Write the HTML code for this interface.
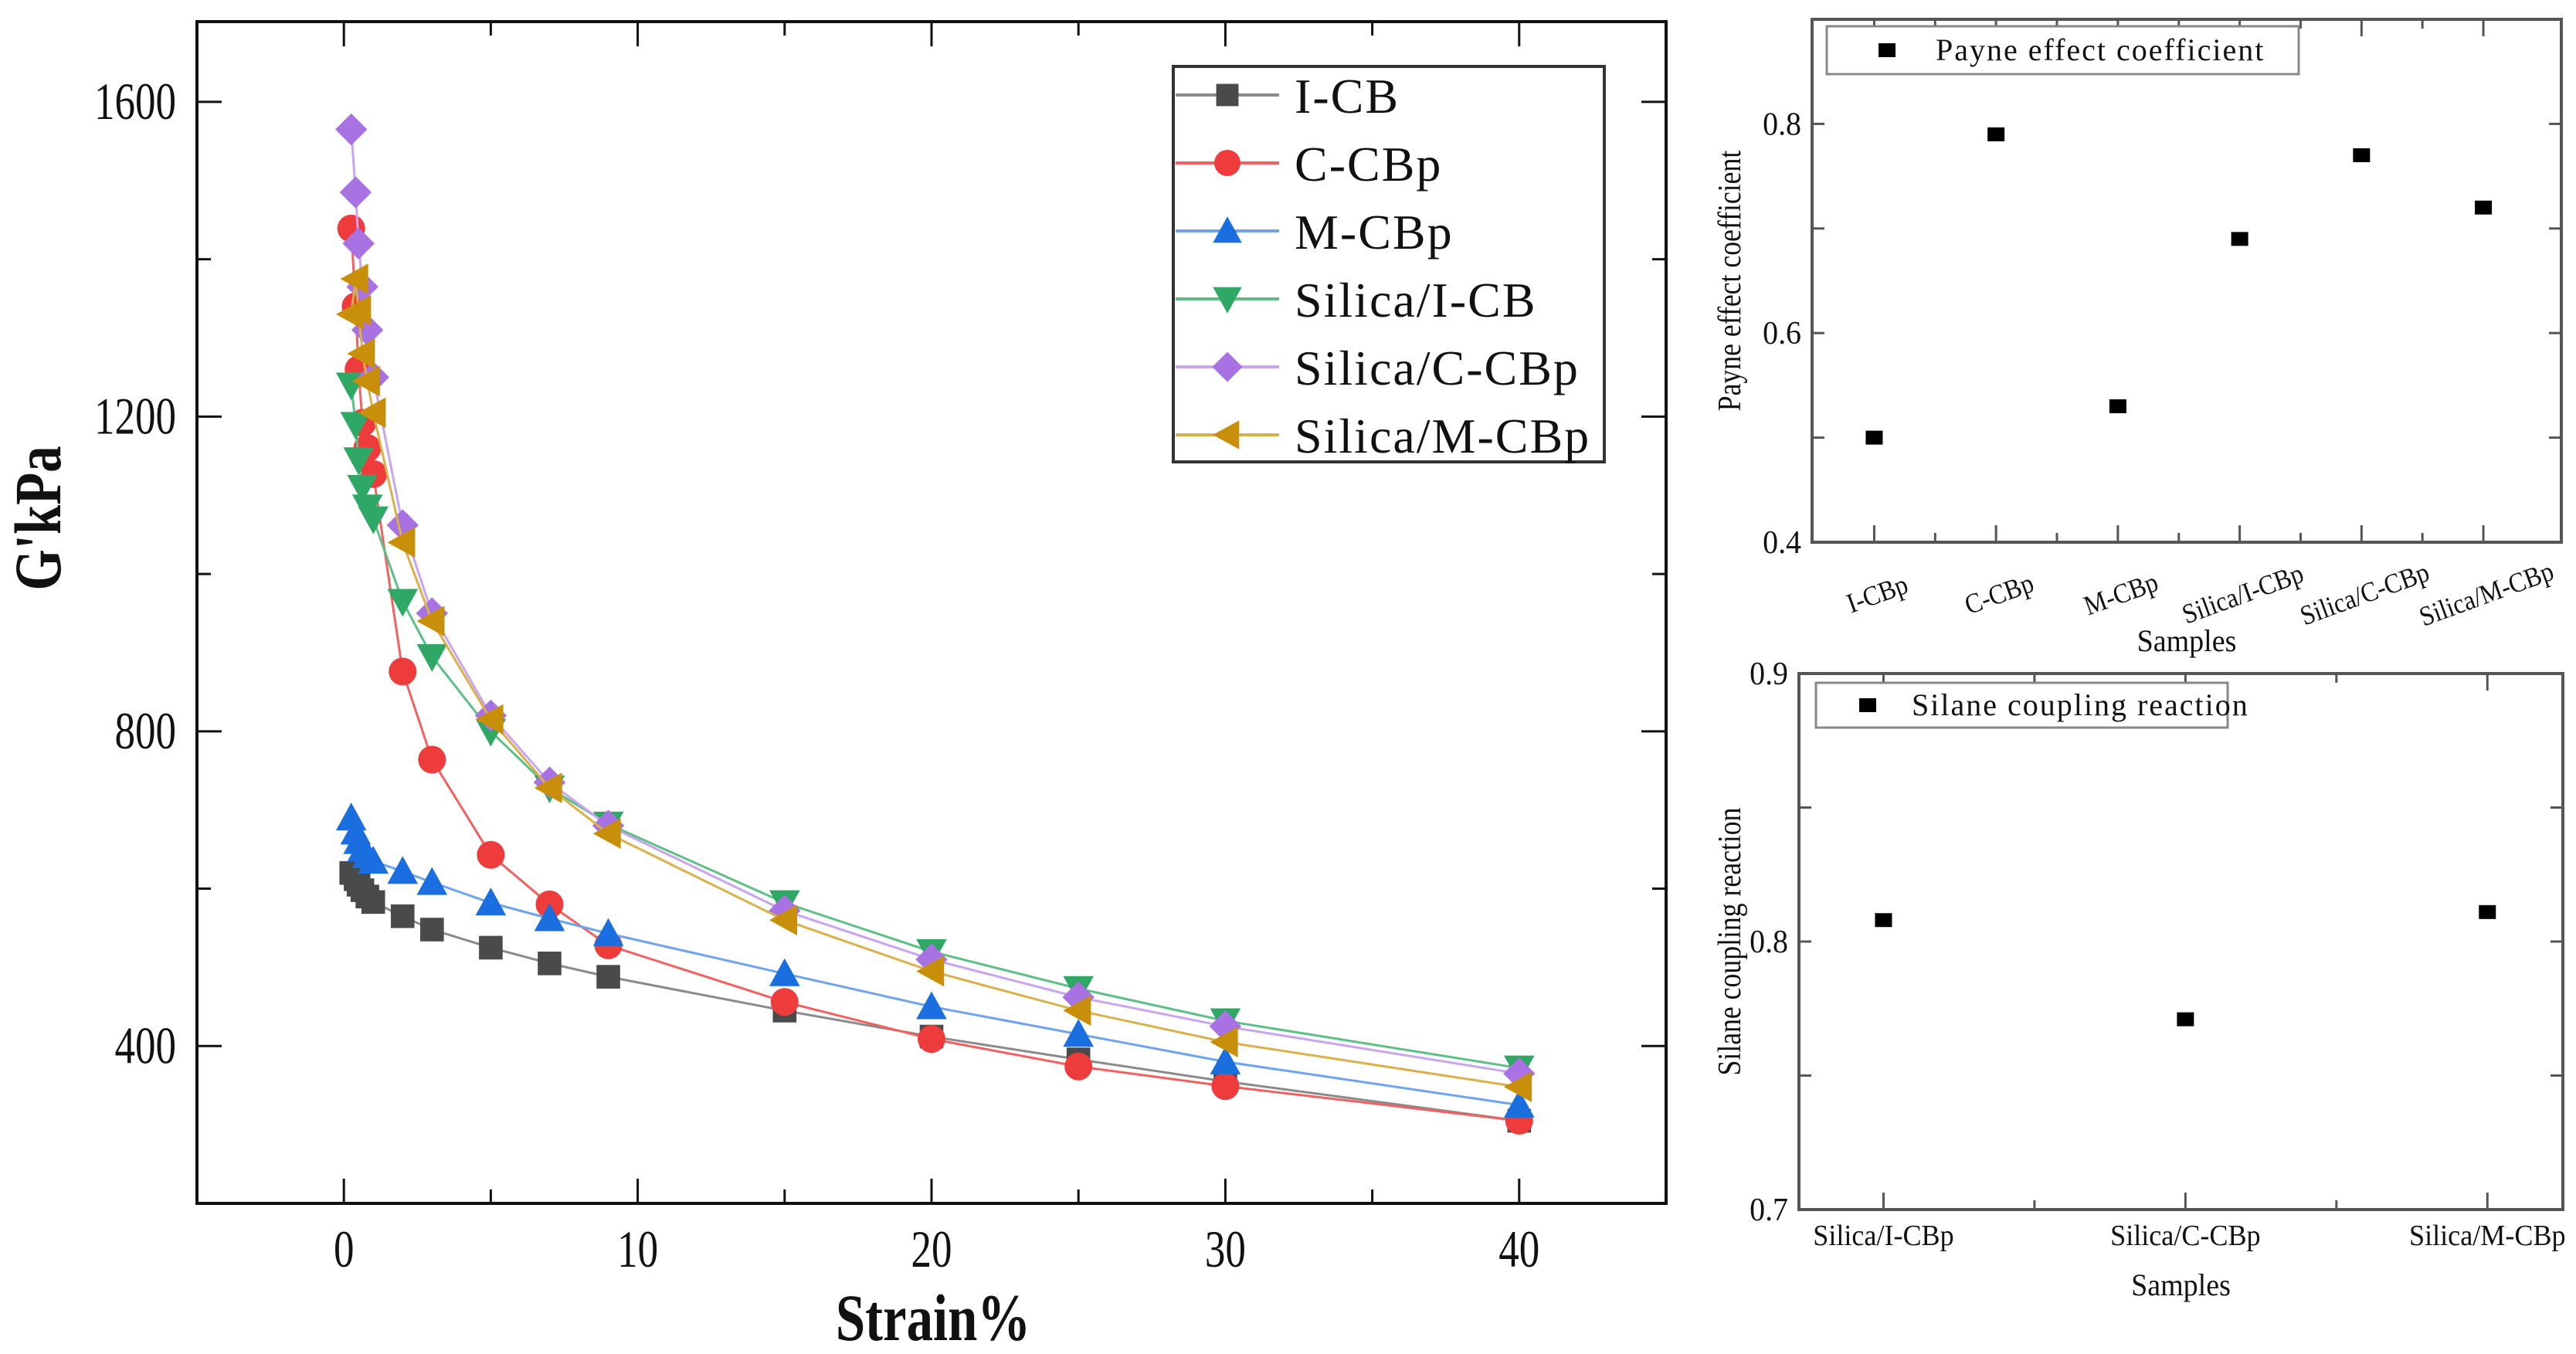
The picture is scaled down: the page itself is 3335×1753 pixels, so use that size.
<!DOCTYPE html>
<html><head><meta charset="utf-8"><style>
html,body{margin:0;padding:0;background:#fff;}
svg{display:block;}
text{font-family:"Liberation Serif",serif;fill:#111;}
</style></head><body>
<svg id="fig" width="3335" height="1753" viewBox="0 0 3335 1753" xmlns="http://www.w3.org/2000/svg">
<g id="main"></g>
<g id="top"></g>
<g id="bot"></g>
</svg>
<script>
// ---- main chart data ----
const strain = [0.25,0.4,0.5,0.63,0.8,1.0,2,3,5,7,9,15,20,25,30,40];
const seriesNames = ["I-CB","C-CBp","M-CBp","Silica/I-CB","Silica/C-CBp","Silica/M-CBp"];
const valICB = [620,612,605,598,590,583,565,548,525,505,488,445,412,383,355,305];
const valCCBp = [1439,1340,1260,1192,1160,1127,876,764,643,580,528,456,409,374,349,305];
const valMCBp = [690,672,660,650,642,635,622,608,582,562,543,492,450,415,380,325];
const valSICB = [1240,1190,1145,1110,1085,1070,965,895,800,728,682,582,520,473,432,372];
const valSCCBp = [1565,1485,1420,1365,1310,1250,1062,950,820,735,680,572,510,462,425,365];
const valSMCBp = [1330,1375,1335,1280,1245,1205,1040,940,815,728,670,560,495,445,405,348];
const xTicks = [0,10,20,30,40];
const yTicks = [400,800,1200,1600];
// ---- Payne panel ----
const payneCats = ["I-CBp","C-CBp","M-CBp","Silica/I-CBp","Silica/C-CBp","Silica/M-CBp"];
const payneVals = [0.50,0.79,0.53,0.69,0.77,0.72];
const payneTicks = ["0.4","0.6","0.8"];
// ---- Silane panel ----
const silCats = ["Silica/I-CBp","Silica/C-CBp","Silica/M-CBp"];
const silVals = [0.808,0.771,0.811];
const silTicks = ["0.7","0.8","0.9"];

const NS="http://www.w3.org/2000/svg";
function mk(parent,tag,attrs,txt){const e=document.createElementNS(NS,tag);for(const k in attrs)e.setAttribute(k,attrs[k]);if(txt!==undefined)e.textContent=txt;parent.appendChild(e);return e;}

// ===== main =====
const M={l:255,r:2157,t:28,b:1558,x0:-5,x1:45,y0:200,y1:1702};
const sx=v=>M.l+(v-M.x0)/(M.x1-M.x0)*(M.r-M.l);
const sy=v=>M.b-(v-M.y0)/(M.y1-M.y0)*(M.b-M.t);
const gm=document.getElementById('main');
let f=mk(gm,'rect',{x:M.l,y:M.t,width:M.r-M.l,height:M.b-M.t,fill:'none',stroke:'#111','stroke-width':4});

for(let v=0;v<=45;v+=5){const X=sx(v);const L=(v%10===0)?32:18;
 mk(gm,'line',{x1:X,y1:M.b,x2:X,y2:M.b-L,stroke:'#111','stroke-width':3});
 mk(gm,'line',{x1:X,y1:M.t,x2:X,y2:M.t+L,stroke:'#111','stroke-width':3});}
for(let v=200;v<=1700;v+=200){const Y=sy(v);const L=(v%400===0)?32:18;
 mk(gm,'line',{x1:M.l,y1:Y,x2:M.l+L,y2:Y,stroke:'#111','stroke-width':3});
 mk(gm,'line',{x1:M.r,y1:Y,x2:M.r-L,y2:Y,stroke:'#111','stroke-width':3});}
xTicks.forEach(v=>{const t=mk(gm,'text',{transform:`translate(${sx(v)},1640) scale(0.78,1)`,'text-anchor':'middle','font-size':68},String(v));
 });
yTicks.forEach(v=>{const t=mk(gm,'text',{transform:`translate(228,${sy(v)+22}) scale(0.78,1)`,'text-anchor':'end','font-size':68},String(v));
 });
let tt=mk(gm,'text',{transform:'translate(1208,1735) scale(0.8,1)','text-anchor':'middle','font-size':86,'font-weight':'bold'},'Strain%');

tt=mk(gm,'text',{transform:'translate(78,671) rotate(-90) scale(0.8,1)','text-anchor':'middle','font-size':86,'font-weight':'bold'},"G'kPa");


const colors=['#4a4a4a','#ee3b3b','#1a6ee0','#30a865','#a972e2','#c8900a'];
const lineCols=['#8a8a8a','#f26060','#6fa3ee','#5cbf86','#c9a5ef','#d9b04a'];
const markers=['square','circle','up','down','diamond','left'];
const allVals=[valICB,valCCBp,valMCBp,valSICB,valSCCBp,valSMCBp];
function marker(g,type,x,y,c,s){
 let e;
 if(type==='square')e=mk(g,'rect',{x:x-s*0.85,y:y-s*0.85,width:s*1.7,height:s*1.7,fill:c});
 else if(type==='circle')e=mk(g,'circle',{cx:x,cy:y,r:s,fill:c});
 else {let p;
  if(type==='up')p=[[x,y-s*1.1],[x+s*1.1,y+s*0.9],[x-s*1.1,y+s*0.9]];
  if(type==='down')p=[[x,y+s*1.1],[x+s*1.1,y-s*0.9],[x-s*1.1,y-s*0.9]];
  if(type==='left')p=[[x-s*1.1,y],[x+s*0.9,y-s*1.1],[x+s*0.9,y+s*1.1]];
  if(type==='diamond')p=[[x,y-s*1.15],[x+s*1.15,y],[x,y+s*1.15],[x-s*1.15,y]];
  e=mk(g,'polygon',{points:p.map(q=>q.join(',')).join(' '),fill:c});}
 return e;}
allVals.forEach((vals,i)=>{
 const g=mk(gm,'g',{});
 
 
 const pl=mk(g,'polyline',{points:vals.map((v,j)=>sx(strain[j])+','+sy(v)).join(' '),fill:'none',stroke:lineCols[i],'stroke-width':3});
 
 vals.forEach((v,j)=>{const m=marker(g,markers[i],sx(strain[j]),sy(v),colors[i],18);
  });
});
// legend
const lg=mk(gm,'g',{});

mk(lg,'rect',{x:1519,y:86,width:558,height:512,fill:'#fff',stroke:'#333','stroke-width':4});
seriesNames.forEach((n,i)=>{const y=123+i*88;
 const e=mk(lg,'g',{});
 
 mk(e,'line',{x1:1522,y1:y,x2:1656,y2:y,stroke:lineCols[i],'stroke-width':4});
 marker(e,markers[i],1589,y,colors[i],17);
 mk(e,'text',{x:1676,y:y+23,'font-size':64,'letter-spacing':2},n);});

// ===== category panels =====
function panel(gid,box,cats,vals,ticks,y0,y1,minorStep,title,legendBox,rot){
 const g=document.getElementById(gid);
 const X=i=>box.l+(i-box.x0)/(box.x1-box.x0)*(box.r-box.l);
 const Y=v=>box.b-(v-y0)/(y1-y0)*(box.b-box.t);
 const fr=mk(g,'rect',{x:box.l,y:box.t,width:box.r-box.l,height:box.b-box.t,fill:'none',stroke:'#555','stroke-width':4});
 
 cats.forEach((c,i)=>{mk(g,'line',{x1:X(i),y1:box.b,x2:X(i),y2:box.b-22,stroke:'#555','stroke-width':3});
  mk(g,'line',{x1:X(i),y1:box.t,x2:X(i),y2:box.t+22,stroke:'#555','stroke-width':3});
  if(i<cats.length-1){mk(g,'line',{x1:X(i+0.5),y1:box.b,x2:X(i+0.5),y2:box.b-12,stroke:'#555','stroke-width':3});
   mk(g,'line',{x1:X(i+0.5),y1:box.t,x2:X(i+0.5),y2:box.t+12,stroke:'#555','stroke-width':3});}
  let t;
  if(rot) t=mk(g,'text',{transform:`translate(${X(i)+8},${box.b+78}) rotate(-20) scale(0.9,1)`,'text-anchor':'middle','font-size':36},c);
  else t=mk(g,'text',{transform:`translate(${X(i)},${box.b+46}) scale(0.95,1)`,'text-anchor':'middle','font-size':38},c);
  });
 for(let v=y0;v<=y1+1e-9;v+=minorStep){const yy=Y(v);
  mk(g,'line',{x1:box.l,y1:yy,x2:box.l+16,y2:yy,stroke:'#555','stroke-width':3});
  mk(g,'line',{x1:box.r,y1:yy,x2:box.r-16,y2:yy,stroke:'#555','stroke-width':3});}
 ticks.forEach(s=>{const t=mk(g,'text',{transform:`translate(${box.l-14},${Y(parseFloat(s))+14}) scale(0.95,1)`,'text-anchor':'end','font-size':42,fill:'#333'},s);
  });
 vals.forEach((v,i)=>{const r=mk(g,'rect',{x:X(i)-11,y:Y(v)-9,width:22,height:18,fill:'#000'});
  });
 let t=mk(g,'text',{transform:`translate(${(box.l+box.r)/2},${box.samplesY}) scale(0.95,1)`,'text-anchor':'middle','font-size':40},'Samples');
 
 t=mk(g,'text',{transform:`translate(2253,${(box.t+box.b)/2}) rotate(-90) scale(0.85,1)`,'text-anchor':'middle','font-size':42},title);
 
 const lg=mk(g,'g',{});
 
 mk(lg,'rect',{x:legendBox.x,y:legendBox.y,width:legendBox.w,height:legendBox.h,fill:'#fff',stroke:'#888','stroke-width':3});
 mk(lg,'rect',{x:legendBox.mx-11,y:legendBox.y+legendBox.h/2-9,width:22,height:18,fill:'#000'});
 mk(lg,'text',{x:legendBox.tx,y:legendBox.y+legendBox.h/2+13,'font-size':40,'letter-spacing':2},title);
}
panel('top',{l:2346,r:3316,t:25,b:702,x0:-0.51,x1:5.64,samplesY:843},payneCats,payneVals,payneTicks,0.4,0.9,0.1,'Payne effect coefficient',{x:2365,y:34,w:611,h:62,mx:2443,tx:2506},true);
panel('bot',{l:2329,r:3318,t:872,b:1566,x0:-0.28,x1:2.25,samplesY:1677},silCats,silVals,silTicks,0.7,0.9,0.05,'Silane coupling reaction',{x:2351,y:884,w:533,h:58,mx:2418,tx:2475},false);
</script>
</body></html>
